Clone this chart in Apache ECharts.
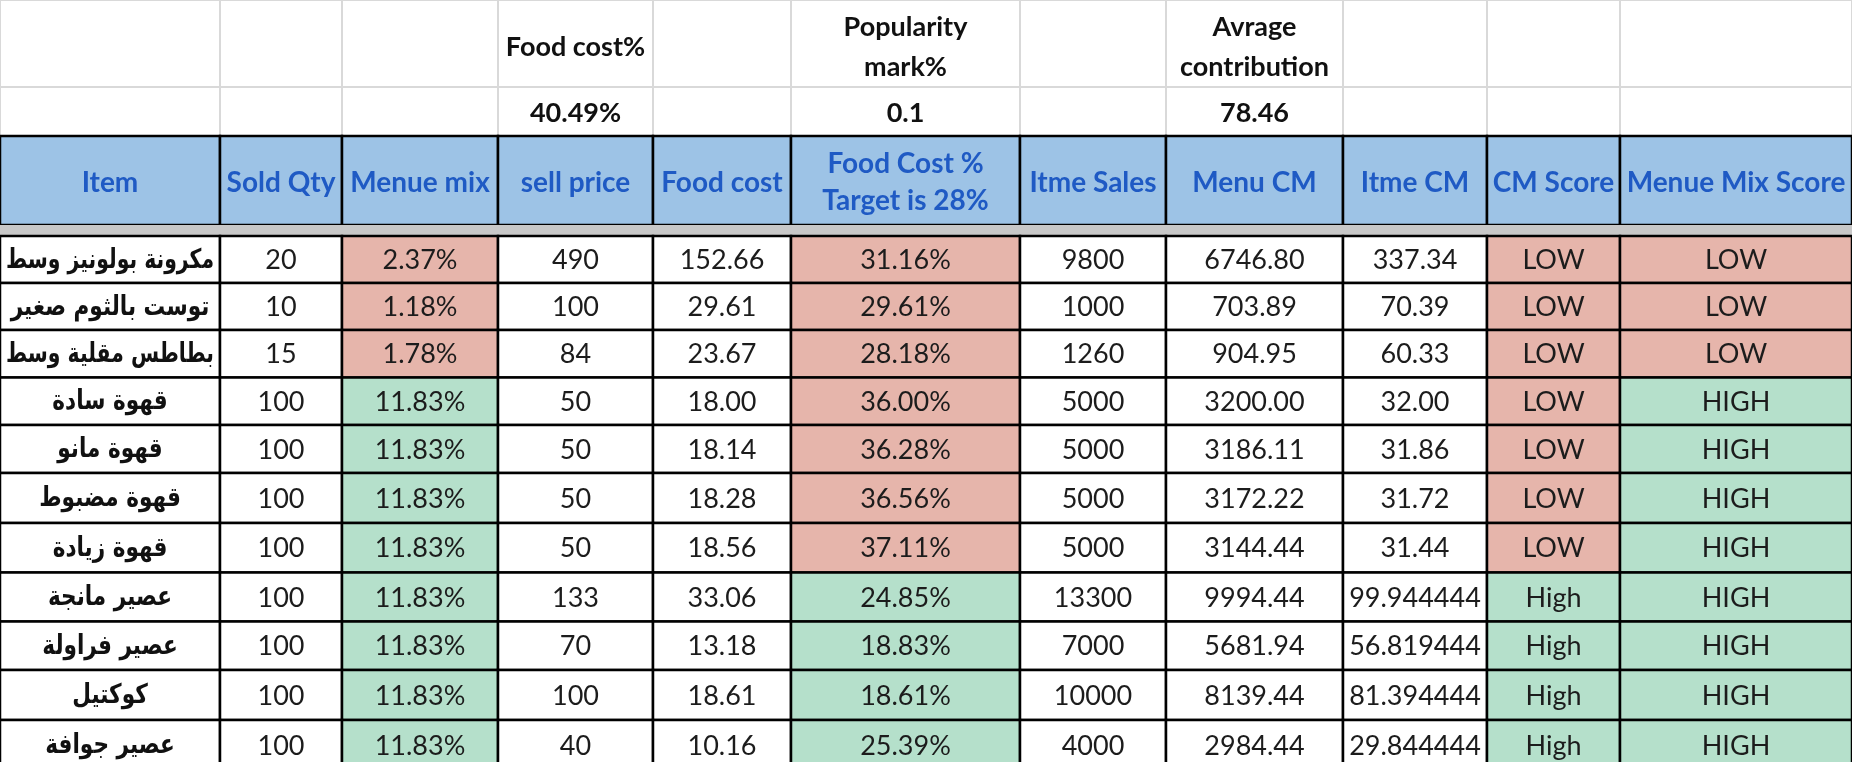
<!DOCTYPE html>
<html>
<head>
<meta charset="utf-8">
<script src="https://cdn.jsdelivr.net/npm/echarts@6/dist/echarts.min.js"></script>
<style>
html,body{margin:0;padding:0;background:#fff;}
#chart{width:1852px;height:762px;}
</style>
</head>
<body>
<div id="chart"></div>
<script>
// ---------- data ----------
const columns = ['Item','Sold Qty','Menue mix','sell price','Food cost','Food Cost %\nTarget is 28%','Itme Sales','Menu CM','Itme CM','CM Score','Menue Mix Score'];
const items = ['مكرونة بولونيز وسط','توست بالثوم صغير','بطاطس مقلية وسط','قهوة سادة','قهوة مانو','قهوة مضبوط','قهوة زيادة','عصير مانجة','عصير فراولة','كوكتيل','عصير جوافة'];
const soldQty = [20,10,15,100,100,100,100,100,100,100,100];
const menuMix = [2.37,1.18,1.78,11.83,11.83,11.83,11.83,11.83,11.83,11.83,11.83];
const sellPrice = [490,100,84,50,50,50,50,133,70,100,40];
const foodCost = [152.66,29.61,23.67,18.00,18.14,18.28,18.56,33.06,13.18,18.61,10.16];
const foodCostPct = [31.16,29.61,28.18,36.00,36.28,36.56,37.11,24.85,18.83,18.61,25.39];
const itemSales = [9800,1000,1260,5000,5000,5000,5000,13300,7000,10000,4000];
const menuCM = [6746.80,703.89,904.95,3200.00,3186.11,3172.22,3144.44,9994.44,5681.94,8139.44,2984.44];
const itemCM = ['337.34','70.39','60.33','32.00','31.86','31.72','31.44','99.944444','56.819444','81.394444','29.844444'];
const cmScore = ['LOW','LOW','LOW','LOW','LOW','LOW','LOW','High','High','High','High'];
const mixScore = ['LOW','LOW','LOW','HIGH','HIGH','HIGH','HIGH','HIGH','HIGH','HIGH','HIGH'];
const summaryLabels = ['Food cost%','Popularity\nmark%','Avrage\ncontribution'];
const summaryValues = ['40.49%','0.1','78.46'];
const summaryCols = [3,5,7];
const foodCostTarget = 28;

// ---------- layout (not data) ----------
const W = 1852, H = 762;
const colEdges = [0,220,342,498,653,791,1020,1166,1343,1487,1620,1852];
const rowEdges = [0,87,136,225,236,283,330,377.5,425,473,523,572.5,621.5,670,720,770];
const RED = '#e6b5ab', GREEN = '#b5e0cb', HEAD = '#9dc3e6', STRIP = '#c8c8c8';
const LATIN = 'Lato, "Open Sans", sans-serif';
const ARABIC = '"DejaVu Sans", sans-serif';

const measureCtx = document.createElement('canvas').getContext('2d');
function textWidth(text, font) { measureCtx.font = font; return measureCtx.measureText(text).width; }

const cells = [];
function addCell(c, r, cEnd, text, opt) {
  cells.push(Object.assign({ value: [c, r, cEnd], text: text }, opt));
}
// title rows
for (let c = 0; c < columns.length; c++) {
  const k = summaryCols.indexOf(c);
  addCell(c, 0, c + 1, k >= 0 ? summaryLabels[k] : '', { fill: '#fff', stroke: '#d9d9d9', lw: 2, font: 'bold 27px ' + LATIN, color: '#111', lh: 40, dy: 4 });
  addCell(c, 1, c + 1, k >= 0 ? summaryValues[k] : '', { fill: '#fff', stroke: '#d9d9d9', lw: 2, font: 'bold 27px ' + LATIN, color: '#111', lh: 34, dy: 2 });
}
// header
columns.forEach((name, c) => {
  addCell(c, 2, c + 1, name, { fill: HEAD, stroke: '#000', lw: 2.5, font: 'bold 28px ' + LATIN, color: '#1f5ac4', lh: 37, dy: 2 });
});
// separator strip
addCell(0, 3, columns.length, '', { fill: STRIP, stroke: STRIP, lw: 0 });
// data rows
const fmt2 = v => v.toFixed(2);
items.forEach((name, i) => {
  const r = 4 + i;
  const base = { stroke: '#000', lw: 2.5, font: '27px ' + LATIN, color: '#1c1c1c', lh: 32, dy: 1 };
  const row = [
    [name, '#fff', { font: 'bold 27px ' + ARABIC, color: '#111', fit: 0.8 }],
    [String(soldQty[i]), '#fff'],
    [fmt2(menuMix[i]) + '%', mixScore[i] === 'LOW' ? RED : GREEN],
    [String(sellPrice[i]), '#fff'],
    [fmt2(foodCost[i]), '#fff'],
    [fmt2(foodCostPct[i]) + '%', foodCostPct[i] > foodCostTarget ? RED : GREEN],
    [String(itemSales[i]), '#fff'],
    [fmt2(menuCM[i]), '#fff'],
    [itemCM[i], '#fff'],
    [cmScore[i], cmScore[i] === 'LOW' ? RED : GREEN],
    [mixScore[i], mixScore[i] === 'LOW' ? RED : GREEN]
  ];
  row.forEach((cell, c) => {
    addCell(c, r, c + 1, cell[0], Object.assign({}, base, { fill: cell[1] }, cell[2] || {}));
  });
});

const chart = echarts.init(document.getElementById('chart'), null, { renderer: 'canvas' });
chart.setOption({
  animation: false,
  backgroundColor: '#fff',
  grid: { left: 0, right: 0, top: 0, bottom: 0 },
  xAxis: { type: 'value', min: 0, max: W, show: false },
  yAxis: { type: 'value', min: 0, max: H, inverse: true, show: false },
  series: [{
    type: 'custom',
    clip: false,
    data: cells.map(d => ({ value: d.value })),
    renderItem: function (params, api) {
      const d = cells[params.dataIndex];
      const c = api.value(0), r = api.value(1), ce = api.value(2);
      const p0 = api.coord([colEdges[c], rowEdges[r]]);
      const p1 = api.coord([colEdges[ce], rowEdges[r + 1]]);
      const cw = p1[0] - p0[0];
      const children = [{
        type: 'rect',
        shape: { x: p0[0], y: p0[1], width: cw, height: p1[1] - p0[1] },
        style: { fill: d.fill, stroke: d.lw ? d.stroke : null, lineWidth: d.lw }
      }];
      if (d.text) {
        let sx = 1;
        if (d.fit) {
          const w = textWidth(d.text, d.font);
          sx = Math.min(d.fit, (cw - 12) / w);
        }
        children.push({
          type: 'text',
          x: (p0[0] + p1[0]) / 2,
          y: (p0[1] + p1[1]) / 2 + (d.dy || 0),
          scaleX: sx,
          style: {
            text: d.text,
            x: 0,
            y: 0,
            align: 'center',
            verticalAlign: 'middle',
            font: d.font,
            fill: d.color,
            lineHeight: d.lh
          }
        });
      }
      return { type: 'group', children: children };
    }
  }]
});
</script>
</body>
</html>
